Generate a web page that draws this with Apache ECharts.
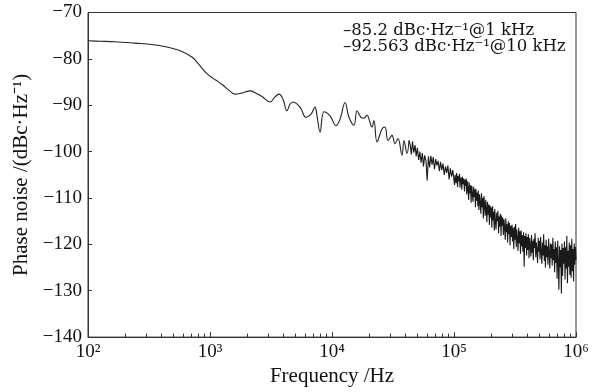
<!DOCTYPE html>
<html><head><meta charset="utf-8">
<script src="https://cdn.jsdelivr.net/npm/echarts@6/dist/echarts.min.js"></script>
<style>html,body{margin:0;padding:0;background:#fff}#c{width:600px;height:392px}</style>
</head><body><div id="c"></div>
<script>
// Smooth low-frequency part (Hz, dBc/Hz)
var lowFreq = [100,125,166,243,335,453,589,711,782,859,944,1059,1164,1280,1432,1604,1864,2128,2382,2667,3104,3412,3681,3966,4276,4529,4786,5466,6124,6730,7256,7536,7980,8600,9640,10790,11640,12790,13770,15140,16030,17290,18290,19370,20100,21270,22080,23390,25690,27180,28770,31030,32820,34760,37490,38910,41180,42760];
var lowDb = [-76.1,-76.2,-76.3,-76.6,-76.9,-77.5,-78.4,-79.6,-80.7,-82.0,-83.2,-84.2,-84.9,-85.7,-86.8,-87.6,-87.3,-86.9,-87.4,-88.1,-89.3,-88.2,-87.6,-88.7,-91.2,-89.8,-89.3,-90.4,-92.6,-91.9,-90.4,-92.3,-95.8,-91.4,-92.3,-94.4,-93.0,-89.4,-92.6,-94.3,-91.2,-92.6,-92.8,-92.1,-93.0,-94.7,-93.3,-97.9,-95.1,-94.7,-97.6,-96.5,-98.3,-97.2,-100.8,-97.6,-100.4,-97.6];
// Noisy high-frequency part (Hz, dBc/Hz)
var highFreq = [4.37e4,4.47e4,4.57e4,4.68e4,4.79e4,4.90e4,
5.01e4,5.13e4,5.25e4,5.37e4,5.50e4,5.62e4,5.75e4,5.89e4,6.03e4,6.17e4,
6.31e4,6.46e4,6.61e4,6.76e4,6.92e4,7.08e4,7.24e4,7.41e4,7.59e4,7.76e4,
7.94e4,8.13e4,8.32e4,8.51e4,8.71e4,8.91e4,9.12e4,9.33e4,9.55e4,9.77e4,
1.00e5,1.01e5,1.02e5,1.04e5,1.05e5,1.06e5,1.07e5,1.08e5,1.10e5,1.11e5,1.12e5,1.14e5,1.15e5,1.16e5,1.17e5,1.19e5,1.20e5,1.22e5,1.23e5,1.24e5,
1.26e5,1.27e5,1.29e5,1.30e5,1.32e5,1.33e5,1.35e5,1.37e5,1.38e5,1.40e5,1.41e5,1.43e5,1.45e5,1.46e5,1.48e5,1.50e5,1.51e5,1.53e5,1.55e5,1.57e5,
1.58e5,1.60e5,1.62e5,1.64e5,1.66e5,1.68e5,1.70e5,1.72e5,1.74e5,1.76e5,1.78e5,1.80e5,1.82e5,1.84e5,1.86e5,1.88e5,1.91e5,1.93e5,1.95e5,1.97e5,
2.00e5,2.02e5,2.04e5,2.07e5,2.09e5,2.11e5,2.14e5,2.16e5,2.19e5,2.21e5,2.24e5,2.26e5,2.29e5,2.32e5,2.34e5,2.37e5,2.40e5,2.43e5,2.45e5,2.48e5,
2.51e5,2.54e5,2.57e5,2.60e5,2.63e5,2.66e5,2.69e5,2.72e5,2.75e5,2.79e5,2.82e5,2.85e5,2.88e5,2.92e5,2.95e5,2.99e5,3.02e5,3.05e5,3.09e5,3.13e5,
3.16e5,3.20e5,3.24e5,3.27e5,3.31e5,3.35e5,3.39e5,3.43e5,3.47e5,3.51e5,3.55e5,3.59e5,3.63e5,3.67e5,3.72e5,3.76e5,3.80e5,3.85e5,3.89e5,3.94e5,
3.98e5,4.03e5,4.07e5,4.12e5,4.17e5,4.22e5,4.27e5,4.32e5,4.37e5,4.42e5,4.47e5,4.52e5,4.57e5,4.62e5,4.68e5,4.73e5,4.79e5,4.84e5,4.90e5,4.95e5,
5.01e5,5.07e5,5.13e5,5.19e5,5.25e5,5.31e5,5.37e5,5.43e5,5.50e5,5.56e5,5.62e5,5.69e5,5.75e5,5.82e5,5.89e5,5.96e5,6.03e5,6.10e5,6.17e5,6.24e5,
6.31e5,6.38e5,6.46e5,6.53e5,6.61e5,6.68e5,6.76e5,6.84e5,6.92e5,7.00e5,7.08e5,7.16e5,7.24e5,7.33e5,7.41e5,7.50e5,7.59e5,7.67e5,7.76e5,7.85e5,
7.94e5,8.04e5,8.13e5,8.22e5,8.32e5,8.41e5,8.51e5,8.61e5,8.71e5,8.81e5,8.91e5,9.02e5,9.12e5,9.23e5,9.33e5,9.44e5,9.55e5,9.66e5,9.77e5,9.89e5,
1.00e6];
var highDb = [-98.5,-100.6,-97.8,-100.2,-98.6,-101.0,
-99.2,-101.8,-100.0,-102.4,-100.3,-103.2,-100.8,-102.0,-106.2,-101.0,
-103.4,-100.9,-102.8,-101.2,-103.8,-101.6,-103.0,-102.0,-104.2,-102.2,
-104.0,-102.6,-105.0,-103.2,-104.6,-103.0,-106.0,-103.6,-105.4,-104.0,
-104.4,-107.2,-105.0,-106.8,-104.6,-105.8,-107.6,-105.2,-106.4,-104.8,-107.8,-105.6,-106.2,-108.2,-105.4,-107.0,-105.8,-108.6,-106.0,-107.4,
-105.8,-109.2,-106.4,-108.0,-110.4,-106.6,-109.0,-107.2,-111.0,-107.4,-108.6,-110.8,-107.6,-109.8,-108.2,-112.0,-108.0,-110.6,-108.8,-111.8,
-108.4,-112.6,-109.2,-111.0,-113.4,-109.0,-112.0,-110.0,-114.4,-109.6,-111.6,-113.8,-110.4,-112.8,-115.2,-110.8,-113.6,-111.4,-115.8,-111.6,
-114.2,-112.0,-116.4,-111.8,-114.8,-113.0,-117.0,-112.4,-115.4,-116.8,-113.2,-115.0,-112.8,-117.6,-114.0,-116.2,-113.4,-118.2,-113.8,-116.0,
-114.2,-118.0,-114.6,-116.6,-119.0,-114.4,-117.4,-115.6,-119.6,-115.0,-117.8,-115.4,-120.2,-116.0,-118.4,-115.8,-119.4,-116.4,-121.0,-116.2,
-119.0,-115.6,-120.6,-116.8,-118.6,-121.4,-116.4,-119.8,-117.2,-122.0,-117.0,-120.4,-118.0,-121.6,-117.4,-124.8,-118.2,-120.8,-117.6,-122.4,
-118.4,-121.2,-117.8,-123.0,-118.6,-120.2,-122.6,-118.0,-121.8,-119.2,-123.4,-118.8,-120.8,-117.6,-122.8,-119.6,-121.4,-124.0,-118.6,-121.6,
-119.2,-123.2,-118.4,-121.8,-124.2,-119.6,-122.4,-117.8,-123.6,-120.2,-125.0,-119.0,-122.8,-120.4,-124.4,-118.8,-122.0,-125.2,-119.8,-123.0,
-120.0,-124.6,-118.6,-123.4,-121.0,-126.0,-119.4,-124.0,-120.6,-127.4,-119.2,-123.8,-129.8,-120.4,-125.0,-121.2,-130.6,-119.8,-126.8,-120.8,
-124.2,-119.4,-127.6,-120.6,-125.2,-118.2,-128.4,-121.4,-124.8,-119.6,-126.6,-120.2,-127.2,-118.8,-125.8,-121.0,-128.0,-119.8,-124.4,-120.6,
-123.4];
var xTickLabels = {2:'10²',3:'10³',4:'10⁴',5:'10⁵',6:'10⁶'};
var minorTickFreqs = [200,300,400,500,600,700,800,900,2000,3000,4000,5000,6000,7000,8000,9000,
20000,30000,40000,50000,60000,70000,80000,90000,200000,300000,400000,500000,600000,700000,800000,900000];
var noteLines = ['–85.2 dBc·Hz⁻¹@1 kHz','–92.563 dBc·Hz⁻¹@10 kHz'];

var lowData = lowFreq.map(function(f,i){return [f, lowDb[i]];});
var highData = [[lowFreq[lowFreq.length-1], lowDb[lowDb.length-1]]].concat(highFreq.map(function(f,i){return [f, highDb[i]];}));
var FONT = '"Liberation Serif", "Times New Roman", serif';
var FONT2 = '"DejaVu Serif", serif';
var chart = echarts.init(document.getElementById('c'), null, {renderer:'canvas'});
chart.setOption({
  animation:false,
  backgroundColor:'#fff',
  grid:{left:88,right:24,top:12.5,bottom:52,show:true,borderColor:'#333',borderWidth:1,backgroundColor:'transparent'},
  xAxis:{type:'log',logBase:10,min:100,max:1e6,
    name:'Frequency /Hz',nameLocation:'middle',nameGap:27,
    nameTextStyle:{fontFamily:FONT,fontSize:21,color:'#111'},
    axisLine:{lineStyle:{color:'#333',width:1}},
    axisTick:{inside:true,length:5,lineStyle:{color:'#333'}},
    splitLine:{show:false},
    axisLabel:{fontFamily:FONT,fontSize:19,color:'#111',margin:5,
      formatter:function(v){var e=Math.round(Math.log10(v));return xTickLabels[e]||'';}}
  },
  yAxis:{type:'value',min:-140,max:-70,interval:10,
    name:'Phase noise /(dBc·Hz⁻¹)',nameLocation:'middle',nameGap:56,nameRotate:90,
    nameTextStyle:{fontFamily:FONT,fontSize:21,color:'#111'},
    axisLine:{show:true,lineStyle:{color:'#333',width:1}},
    axisTick:{show:true,inside:true,length:4,lineStyle:{color:'#333'}},
    splitLine:{show:false},
    axisLabel:{fontFamily:FONT,fontSize:19,color:'#111',margin:6,
      formatter:function(v){return v<0?'−'+Math.abs(v):String(v);}}
  },
  graphic:[
    {type:'text',left:343,top:22,style:{text:noteLines[0],font:'16.5px '+FONT2,fill:'#111'}},
    {type:'text',left:343,top:38,style:{text:noteLines[1],font:'16.5px '+FONT2,fill:'#111'}}
  ],
  series:[
    {type:'line',data:lowData,showSymbol:false,smooth:0.4,lineStyle:{color:'#222',width:1.1}},
    {type:'line',data:highData,showSymbol:false,smooth:false,lineStyle:{color:'#1a1a1a',width:1.1}},
    {type:'custom',coordinateSystem:'cartesian2d',silent:true,z:5,clip:false,
      data:minorTickFreqs.map(function(f){return [f,-140];}),
      renderItem:function(params,api){
        var p=api.coord([api.value(0),api.value(1)]);
        var x=Math.round(p[0])+0.5;
        return {type:'line',shape:{x1:x,y1:p[1],x2:x,y2:p[1]-3.5},style:{stroke:'#333',lineWidth:1}};
      }}
  ]
});
</script></body></html>
